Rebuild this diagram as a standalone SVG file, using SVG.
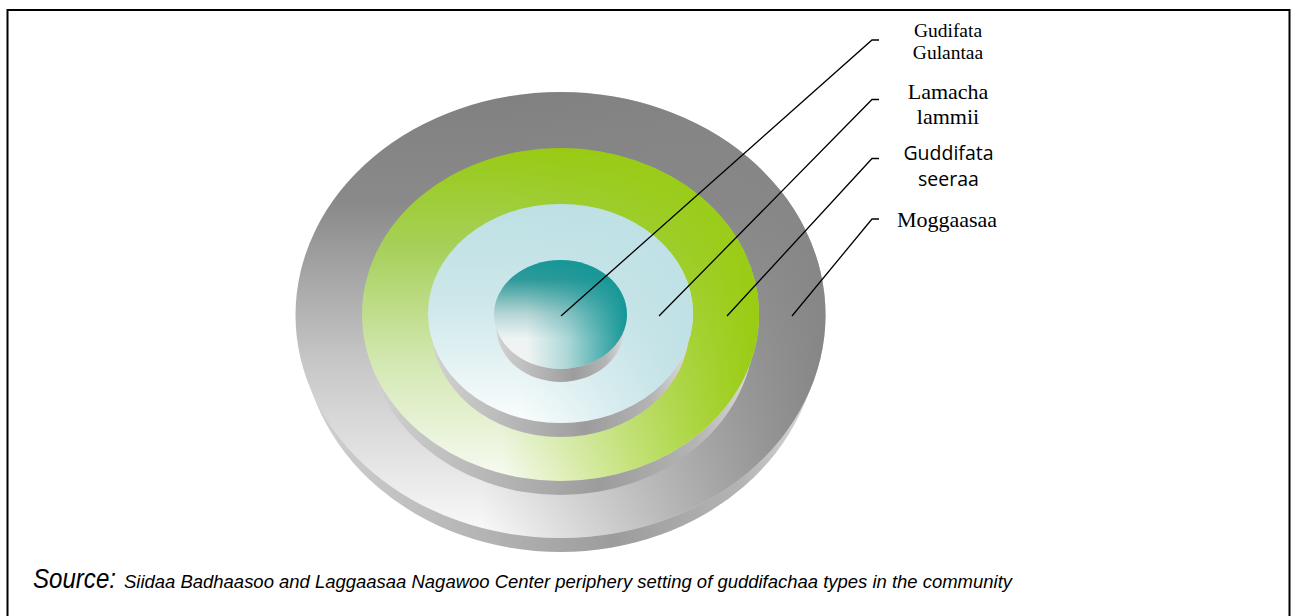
<svg xmlns="http://www.w3.org/2000/svg" width="1295" height="616" viewBox="0 0 1295 616">
<style>
.frame{fill:none;stroke:#000;stroke-width:2}
.lead{fill:none;stroke:#000;stroke-width:1.3}
.serif{font-family:"Liberation Serif","Times New Roman",serif;fill:#000;text-anchor:middle}
.sans{font-family:"Open Sans","DejaVu Sans",sans-serif;fill:#000;text-anchor:middle}
.cap{font-family:"Liberation Sans",Arial,sans-serif;font-style:italic;fill:#000}
.side{fill:url(#gSide)}
</style>
<defs>
<linearGradient id="gSide" x1="0" y1="0" x2="1" y2="0">
<stop offset="0" stop-color="#d2d2d2"/>
<stop offset="0.45" stop-color="#ababab"/>
<stop offset="0.6" stop-color="#9c9c9c"/>
<stop offset="0.85" stop-color="#b4b4b4"/>
<stop offset="1" stop-color="#dcdcdc"/>
</linearGradient>
<linearGradient id="vOuter" x1="0" y1="0" x2="0" y2="1">
<stop offset="0" stop-color="#808080"/>
<stop offset="0.25" stop-color="#8a8a8a"/>
<stop offset="0.6" stop-color="#c6c6c6"/>
<stop offset="1" stop-color="#fbfbfb"/>
</linearGradient>
<linearGradient id="hOuter" x1="0" y1="0" x2="1" y2="0">
<stop offset="0.35" stop-color="#868686" stop-opacity="0"/>
<stop offset="1" stop-color="#868686" stop-opacity="1"/>
</linearGradient>
<linearGradient id="vGreen" x1="0" y1="0" x2="0" y2="1">
<stop offset="0" stop-color="#98ca14"/>
<stop offset="0.3" stop-color="#a6d05a"/>
<stop offset="0.65" stop-color="#d4e8b4"/>
<stop offset="1" stop-color="#f8fbf3"/>
</linearGradient>
<linearGradient id="hGreen" x1="0" y1="0" x2="1" y2="0">
<stop offset="0.35" stop-color="#99cc11" stop-opacity="0"/>
<stop offset="1" stop-color="#99cc11" stop-opacity="1"/>
</linearGradient>
<linearGradient id="vBlue" x1="0" y1="0" x2="0" y2="1">
<stop offset="0" stop-color="#bde0e4"/>
<stop offset="0.45" stop-color="#cde7ea"/>
<stop offset="1" stop-color="#fbfdfd"/>
</linearGradient>
<linearGradient id="hBlue" x1="0" y1="0" x2="1" y2="0">
<stop offset="0.35" stop-color="#bfe1e5" stop-opacity="0"/>
<stop offset="1" stop-color="#bfe1e5" stop-opacity="1"/>
</linearGradient>
<linearGradient id="vTeal" x1="0" y1="0" x2="0" y2="1">
<stop offset="0" stop-color="#179797"/>
<stop offset="0.18" stop-color="#2f9a9a"/>
<stop offset="0.5" stop-color="#b8d6d6"/>
<stop offset="0.72" stop-color="#eef3f3"/>
<stop offset="1" stop-color="#f3f3f3"/>
</linearGradient>
<linearGradient id="hTeal" x1="0" y1="0" x2="1" y2="0">
<stop offset="0.25" stop-color="#139696" stop-opacity="0"/>
<stop offset="0.55" stop-color="#139696" stop-opacity="0.3"/>
<stop offset="1" stop-color="#139696" stop-opacity="1"/>
</linearGradient>
</defs>
<rect width="1295" height="616" fill="#fff"/>
<rect class="frame" x="7.5" y="10" width="1282" height="630"/>

<g id="disc-moggaasaa">
<ellipse class="side" cx="560.5" cy="329" rx="259" ry="223"/>
<ellipse cx="560.5" cy="315" rx="265" ry="223" fill="url(#vOuter)"/>
<ellipse cx="560.5" cy="315" rx="265" ry="223" fill="url(#hOuter)"/>
</g>
<g id="disc-guddifata-seeraa">
<ellipse class="side" cx="560.5" cy="328.5" rx="194" ry="166.5"/>
<ellipse cx="560.5" cy="314.5" rx="198.5" ry="166.5" fill="url(#vGreen)"/>
<ellipse cx="560.5" cy="314.5" rx="198.5" ry="166.5" fill="url(#hGreen)"/>
</g>
<g id="disc-lamacha-lammii">
<ellipse class="side" cx="560.5" cy="327.5" rx="129" ry="109.5"/>
<ellipse cx="560.5" cy="313.5" rx="132.5" ry="109.5" fill="url(#vBlue)"/>
<ellipse cx="560.5" cy="313.5" rx="132.5" ry="109.5" fill="url(#hBlue)"/>
</g>
<g id="disc-gudifata-gulantaa">
<ellipse class="side" cx="560.5" cy="327.5" rx="64" ry="54.5"/>
<ellipse cx="560.5" cy="314.5" rx="66.5" ry="54.5" fill="url(#vTeal)"/>
<ellipse cx="560.5" cy="314.5" rx="66.5" ry="54.5" fill="url(#hTeal)"/>
</g>

<g id="connectors">
<polyline class="lead" points="561,316 872,40 879,40"/>
<polyline class="lead" points="659,316 872,99.5 879,99.5"/>
<polyline class="lead" points="727,316 872,158.5 879,158.5"/>
<polyline class="lead" points="792,316 872,219 879,219"/>
</g>

<g id="label-gudifata-gulantaa">
<text class="serif" x="948" y="36.5" font-size="19.5">Gudifata</text>
<text class="serif" x="948" y="59" font-size="19.5">Gulantaa</text>
</g>
<g id="label-lamacha-lammii">
<text class="serif" x="948" y="98.5" font-size="22">Lamacha</text>
<text class="serif" x="948" y="123.5" font-size="22">lammii</text>
</g>
<g id="label-guddifata-seeraa">
<text class="sans" x="948.5" y="159.5" font-size="19.5">Guddifata</text>
<text class="sans" x="948.5" y="185.5" font-size="19.5">seeraa</text>
</g>
<g id="label-moggaasaa">
<text class="serif" x="947" y="227" font-size="22">Moggaasaa</text>
</g>

<g id="caption">
<text class="cap" x="33" y="588" font-size="27" textLength="83" lengthAdjust="spacingAndGlyphs">Source:</text>
<text class="cap" x="124" y="588" font-size="17.5" textLength="888" lengthAdjust="spacingAndGlyphs">Siidaa Badhaasoo and Laggaasaa Nagawoo Center periphery setting of guddifachaa types in the community</text>
</g>
</svg>
